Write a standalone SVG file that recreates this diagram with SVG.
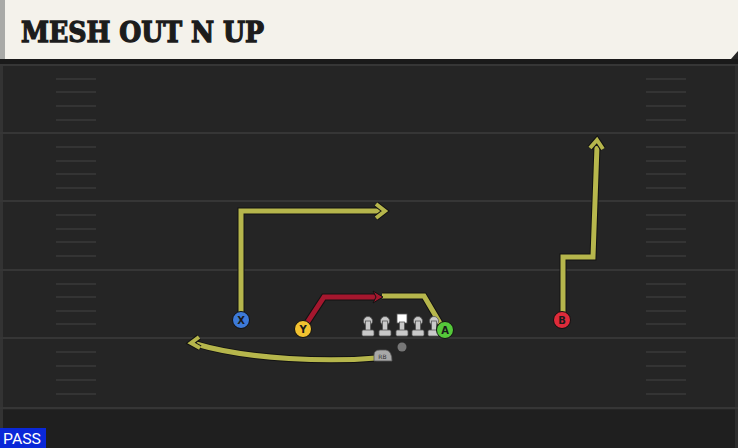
<svg xmlns="http://www.w3.org/2000/svg" width="738" height="448" viewBox="0 0 738 448">
<defs>
<style>
.field{fill:#252525;}
.yard{stroke:#363636;stroke-width:2;}
.hash{stroke:#3a3a3a;stroke-width:1.5;}
.outline{fill:none;stroke:#121212;stroke-width:7;stroke-linejoin:miter;stroke-linecap:butt;}
.route{fill:none;stroke:#b6b64c;stroke-width:5;stroke-linejoin:miter;stroke-linecap:butt;}
.red{fill:none;stroke:#a5172e;stroke-width:5;stroke-linejoin:miter;}
.lbl{font-family:"DejaVu Sans","Liberation Sans",sans-serif;font-weight:bold;font-size:10px;fill:#1a1a1a;text-anchor:middle;}
.ol{fill:#c9c9c9;stroke:#555;stroke-width:0.8;}
</style>
</defs>
<rect class="field" x="0" y="0" width="738" height="448"/>
<rect x="0" y="410" width="738" height="38" fill="#1f1f1f"/>
<rect x="0" y="60" width="3" height="388" fill="#333"/>
<rect x="735" y="60" width="3" height="388" fill="#2e2e2e"/>

<g id="field-lines">
<line class="yard" x1="0" y1="65" x2="738" y2="65"/>
<line class="yard" x1="0" y1="133" x2="738" y2="133"/>
<line class="yard" x1="0" y1="201" x2="738" y2="201"/>
<line class="yard" x1="0" y1="270" x2="738" y2="270"/>
<line class="yard" x1="0" y1="338" x2="738" y2="338"/>
<line class="yard" x1="0" y1="408" x2="738" y2="408"/>
<g class="hash">
<line x1="56" y1="79" x2="96" y2="79"/><line x1="56" y1="92" x2="96" y2="92"/><line x1="56" y1="106" x2="96" y2="106"/><line x1="56" y1="120" x2="96" y2="120"/>
<line x1="56" y1="147" x2="96" y2="147"/><line x1="56" y1="161" x2="96" y2="161"/><line x1="56" y1="174" x2="96" y2="174"/><line x1="56" y1="188" x2="96" y2="188"/>
<line x1="56" y1="215" x2="96" y2="215"/><line x1="56" y1="229" x2="96" y2="229"/><line x1="56" y1="242" x2="96" y2="242"/><line x1="56" y1="256" x2="96" y2="256"/>
<line x1="56" y1="284" x2="96" y2="284"/><line x1="56" y1="297" x2="96" y2="297"/><line x1="56" y1="311" x2="96" y2="311"/><line x1="56" y1="324" x2="96" y2="324"/>
<line x1="56" y1="352" x2="96" y2="352"/><line x1="56" y1="366" x2="96" y2="366"/><line x1="56" y1="380" x2="96" y2="380"/><line x1="56" y1="394" x2="96" y2="394"/>
<line x1="646" y1="79" x2="686" y2="79"/><line x1="646" y1="92" x2="686" y2="92"/><line x1="646" y1="106" x2="686" y2="106"/><line x1="646" y1="120" x2="686" y2="120"/>
<line x1="646" y1="147" x2="686" y2="147"/><line x1="646" y1="161" x2="686" y2="161"/><line x1="646" y1="174" x2="686" y2="174"/><line x1="646" y1="188" x2="686" y2="188"/>
<line x1="646" y1="215" x2="686" y2="215"/><line x1="646" y1="229" x2="686" y2="229"/><line x1="646" y1="242" x2="686" y2="242"/><line x1="646" y1="256" x2="686" y2="256"/>
<line x1="646" y1="284" x2="686" y2="284"/><line x1="646" y1="297" x2="686" y2="297"/><line x1="646" y1="311" x2="686" y2="311"/><line x1="646" y1="324" x2="686" y2="324"/>
<line x1="646" y1="352" x2="686" y2="352"/><line x1="646" y1="366" x2="686" y2="366"/><line x1="646" y1="380" x2="686" y2="380"/><line x1="646" y1="394" x2="686" y2="394"/>
</g>
</g>

<g id="header">
<rect x="0" y="59" width="738" height="5" fill="#1a1a1a"/>
<path d="M0 0 H738 V51 L731 59 H0 Z" fill="#f4f2eb"/>
<rect x="0" y="0" width="5" height="59" fill="#a9aaa7"/>
<text x="21" y="42" font-family="'DejaVu Serif','Liberation Serif',serif" font-weight="bold" font-size="27" fill="#1c1c1c" stroke="#1c1c1c" stroke-width="1.3" textLength="243" lengthAdjust="spacingAndGlyphs">MESH OUT N UP</text>
</g>

<g id="connectors">
<!-- X route -->
<path class="outline" d="M241 320 V211 H381"/>
<path class="route" d="M241 320 V211 H381"/>
<path d="M376 204 L385 211 L376 218" fill="none" stroke="#121212" stroke-width="6"/>
<path d="M376 204 L385 211 L376 218" fill="none" stroke="#b6b64c" stroke-width="4"/>
<!-- B route -->
<path class="outline" d="M563 320 V257 H593 L597 146"/>
<path class="route" d="M563 320 V257 H593 L597 146"/>
<path d="M590 148 L597 140 L603 149" fill="none" stroke="#121212" stroke-width="6"/>
<path d="M590 148 L597 140 L603 149" fill="none" stroke="#b6b64c" stroke-width="4"/>
<!-- RB route -->
<path class="outline" d="M376 358 C330 362 250 360 196 344"/>
<path class="route" d="M376 358 C330 362 250 360 196 344"/>
<path d="M199 337 L191 343 L200 348" fill="none" stroke="#121212" stroke-width="6"/>
<path d="M199 337 L191 343 L200 348" fill="none" stroke="#b6b64c" stroke-width="4"/>
<!-- A route -->
<path class="outline" d="M444 330 L424 296 H382"/>
<path class="route" d="M444 330 L424 296 H382"/>
<!-- Y route -->
<path class="outline" d="M303 329 L324 297 H376"/>
<path class="red" d="M303 329 L324 297 H376"/>
<path d="M373 291 L383 297 L373 303 L376 297 Z" fill="#a5172e" stroke="#121212" stroke-width="1"/>
</g>

<g id="line">
<g class="ol">
<circle cx="368" cy="321" r="4.5"/><rect x="365.5" y="321" width="5" height="10"/><rect x="362" y="330" width="12" height="6" rx="1.5"/>
<circle cx="385" cy="321" r="4.5"/><rect x="382.5" y="321" width="5" height="10"/><rect x="379" y="330" width="12" height="6" rx="1.5"/>
<rect x="397" y="314" width="10" height="9" fill="#ffffff"/><rect x="399.5" y="322" width="5" height="9"/><rect x="396" y="330" width="12" height="6" rx="1.5"/>
<circle cx="418" cy="321" r="4.5"/><rect x="415.5" y="321" width="5" height="10"/><rect x="412" y="330" width="12" height="6" rx="1.5"/>
<circle cx="434" cy="321" r="4.5"/><rect x="431.5" y="321" width="5" height="10"/><rect x="428" y="330" width="12" height="6" rx="1.5"/>
</g>
<circle cx="402" cy="347" r="4.5" fill="#777"/>
</g>

<g id="RB">
<path d="M374 361 V355 Q374 350 380 350 H386 Q392 351 392 361 Z" fill="#a8a8a8" stroke="#555" stroke-width="0.8"/>
<text x="382.5" y="359" font-family="'DejaVu Sans','Liberation Sans',sans-serif" font-size="6" fill="#333" text-anchor="middle">RB</text>
</g>

<g id="X">
<circle cx="241" cy="320" r="8.5" fill="#3d7ad8" stroke="#111" stroke-width="1"/>
<text class="lbl" x="241" y="324">X</text>
</g>
<g id="Y">
<circle cx="303" cy="329" r="8.5" fill="#f2c230" stroke="#111" stroke-width="1"/>
<text class="lbl" x="303" y="333">Y</text>
</g>
<g id="A">
<circle cx="445" cy="330" r="8.5" fill="#55c83a" stroke="#111" stroke-width="1"/>
<text class="lbl" x="445" y="334">A</text>
</g>
<g id="B">
<circle cx="562" cy="320" r="8.5" fill="#de2b3a" stroke="#111" stroke-width="1"/>
<text class="lbl" x="562" y="324">B</text>
</g>

<g id="pass-tag">
<rect x="0" y="428" width="46" height="20" fill="#0a28d8"/>
<text x="22" y="444" font-family="'Roboto','Liberation Sans',sans-serif" font-size="14" fill="#ffffff" text-anchor="middle" textLength="38" lengthAdjust="spacingAndGlyphs">PASS</text>
</g>
</svg>
